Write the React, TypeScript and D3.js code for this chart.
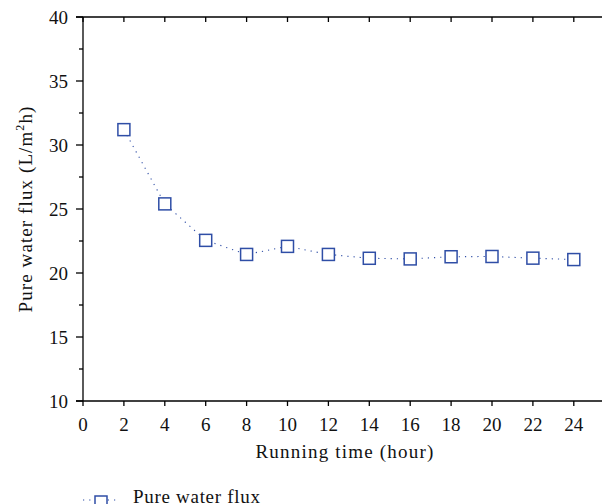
import React from "react";
import * as d3 from "d3";

const hours = [2, 4, 6, 8, 10, 12, 14, 16, 18, 20, 22, 24];
const flux = [31.2, 25.4, 22.55, 21.45, 22.08, 21.45, 21.15, 21.1, 21.27, 21.29, 21.16, 21.05];
const xTicks = [0, 2, 4, 6, 8, 10, 12, 14, 16, 18, 20, 22, 24];
const yTicks = [10, 15, 20, 25, 30, 35, 40];
const yMinor = [12.5, 17.5, 22.5, 27.5, 32.5, 37.5];
const seriesName = "Pure water flux";
const xTitle = "Running time (hour)";

const W = 602, H = 504;
const L = 83, R = 601, T = 17, B = 401;
const BLUE = "#2f4ea6";
const FONT = "'Liberation Serif', 'Times New Roman', serif";

export default function App() {
  const x = d3.scaleLinear().domain([0, (R - L) / 20.45]).range([L, R]);
  const y = d3.scaleLinear().domain([10, 40]).range([B, T]);
  const line = d3.line<number>().x((_, i) => x(hours[i])).y((d) => y(d));
  const path = line(flux) || "";
  const ms = 12;
  return (
    <svg width={W} height={H} style={{ position: "absolute", left: 0, top: 0, fontFamily: FONT }}>
      <rect x={0} y={0} width={W} height={H} fill="#fff" />
      {/* axes */}
      <line x1={L} x2={L} y1={T} y2={B} stroke="#000" strokeWidth={1.3} />
      <line x1={L - 7} x2={R + 1} y1={B} y2={B} stroke="#000" strokeWidth={1.3} />
      <line x1={L - 7} x2={R + 1} y1={T} y2={T} stroke="#000" strokeWidth={1.3} />
      {xTicks.map((t) => (
        <g key={"x" + t}>
          <line x1={x(t)} x2={x(t)} y1={B} y2={B + 5} stroke="#000" strokeWidth={1.3} />
          <line x1={x(t)} x2={x(t)} y1={T} y2={T + 5} stroke="#000" strokeWidth={1.3} />
          <text x={x(t)} y={431} textAnchor="middle" fontSize={19} fill="#111">{t}</text>
        </g>
      ))}
      {yTicks.map((t) => (
        <g key={"y" + t}>
          <line x1={L - 7} x2={L} y1={y(t)} y2={y(t)} stroke="#000" strokeWidth={1.3} />
          <text x={L - 15} y={y(t)} dy="0.35em" textAnchor="end" fontSize={19} fill="#111">{t}</text>
        </g>
      ))}
      {yMinor.map((t) => (
        <line key={"m" + t} x1={L - 4} x2={L} y1={y(t)} y2={y(t)} stroke="#000" strokeWidth={1.3} />
      ))}
      <text x={345} y={458} textAnchor="middle" fontSize={19} letterSpacing={1.2} fill="#111">{xTitle}</text>
      <text transform={`translate(32,${(T + B) / 2}) rotate(-90)`} textAnchor="middle" fontSize={19} letterSpacing={1.1} fill="#111">
        Pure water flux (L/m<tspan dy="-8" fontSize={12}>2</tspan><tspan dy="8">h)</tspan>
      </text>
      {/* series */}
      <path d={path} fill="none" stroke={BLUE} strokeWidth={1.1} strokeDasharray="1.2,5" />
      {flux.map((v, i) => (
        <rect key={i} x={x(hours[i]) - ms / 2} y={y(v) - ms / 2} width={ms} height={ms} fill="#fff" stroke={BLUE} strokeWidth={1.5} />
      ))}
      {/* legend */}
      <line x1={83} x2={118} y1={500} y2={500} stroke={BLUE} strokeWidth={1.1} strokeDasharray="1.2,5" />
      <rect x={101 - ms / 2} y={496} width={ms} height={ms} fill="#fff" stroke={BLUE} strokeWidth={1.5} />
      <text x={133} y={503} fontSize={19} letterSpacing={0.7} fill="#111">{seriesName}</text>
    </svg>
  );
}
